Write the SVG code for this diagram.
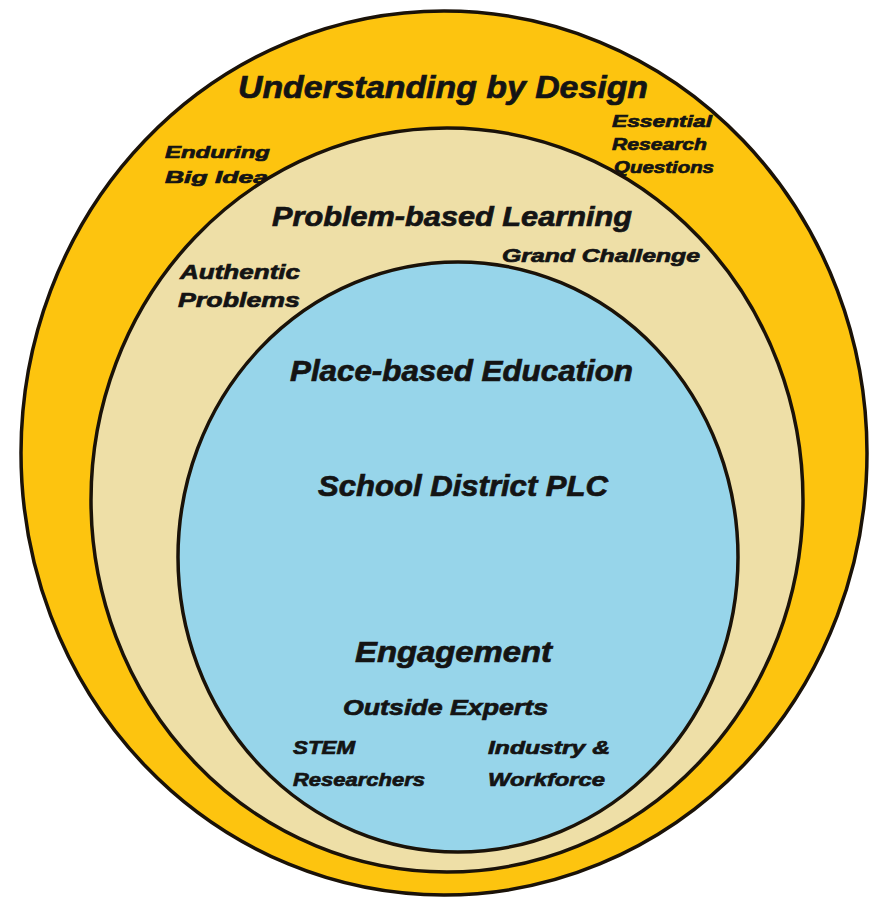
<svg xmlns="http://www.w3.org/2000/svg" width="871" height="899" viewBox="0 0 871 899">
<style>
.ring{stroke:#1a1208;stroke-width:3.5}
.t{font-family:"Liberation Sans",Arial,sans-serif;font-weight:bold;font-style:italic;fill:#141414;stroke:#141414;stroke-width:0.7}
.h{font-size:31px}
.m{font-size:21px}
.s{font-size:17px}
</style>
<rect width="871" height="899" fill="#ffffff"/>
<g id="understanding-by-design">
<ellipse class="ring" cx="444" cy="453" rx="423" ry="442" fill="#FDC40F"/>
<text class="t h" x="238" y="98" textLength="410" lengthAdjust="spacingAndGlyphs">Understanding by Design</text>
<text class="t s" x="165" y="158" textLength="105" lengthAdjust="spacingAndGlyphs">Enduring</text>
<text class="t s" x="165" y="183" textLength="103" lengthAdjust="spacingAndGlyphs">Big Idea</text>
<text class="t s" x="612" y="127" textLength="100" lengthAdjust="spacingAndGlyphs">Essential</text>
<text class="t s" x="612" y="150" textLength="95" lengthAdjust="spacingAndGlyphs">Research</text>
<text class="t s" x="614" y="173" textLength="100" lengthAdjust="spacingAndGlyphs">Questions</text>
</g>
<g id="problem-based-learning">
<ellipse class="ring" cx="447" cy="500" rx="356" ry="372" fill="#EEDFA7"/>
<text class="t h" x="272" y="226" textLength="360" lengthAdjust="spacingAndGlyphs" style="font-size:27px">Problem-based Learning</text>
<text class="t s" x="502" y="262" textLength="198" lengthAdjust="spacingAndGlyphs" style="font-size:18px">Grand Challenge</text>
<text class="t m" x="180" y="279" textLength="120" lengthAdjust="spacingAndGlyphs">Authentic</text>
<text class="t m" x="178" y="307" textLength="122" lengthAdjust="spacingAndGlyphs">Problems</text>
</g>
<g id="place-based-education">
<ellipse class="ring" cx="458" cy="557" rx="280" ry="295" fill="#97D5EA"/>
<text class="t h" x="290" y="381" textLength="343" lengthAdjust="spacingAndGlyphs" style="font-size:29px">Place-based Education</text>
<text class="t h" x="318" y="496" textLength="290" lengthAdjust="spacingAndGlyphs" style="font-size:29px">School District PLC</text>
<text class="t h" x="355" y="662" textLength="197" lengthAdjust="spacingAndGlyphs" style="font-size:29px">Engagement</text>
<text class="t m" x="343" y="715" textLength="205" lengthAdjust="spacingAndGlyphs" style="font-size:22px">Outside Experts</text>
<text class="t s" x="293" y="754" textLength="62" lengthAdjust="spacingAndGlyphs" style="font-size:19px">STEM</text>
<text class="t s" x="293" y="786" textLength="132" lengthAdjust="spacingAndGlyphs" style="font-size:19px">Researchers</text>
<text class="t s" x="488" y="754" textLength="122" lengthAdjust="spacingAndGlyphs" style="font-size:19px">Industry &amp;</text>
<text class="t s" x="488" y="786" textLength="117" lengthAdjust="spacingAndGlyphs" style="font-size:19px">Workforce</text>
</g>
<g id="connectors"></g>
</svg>
